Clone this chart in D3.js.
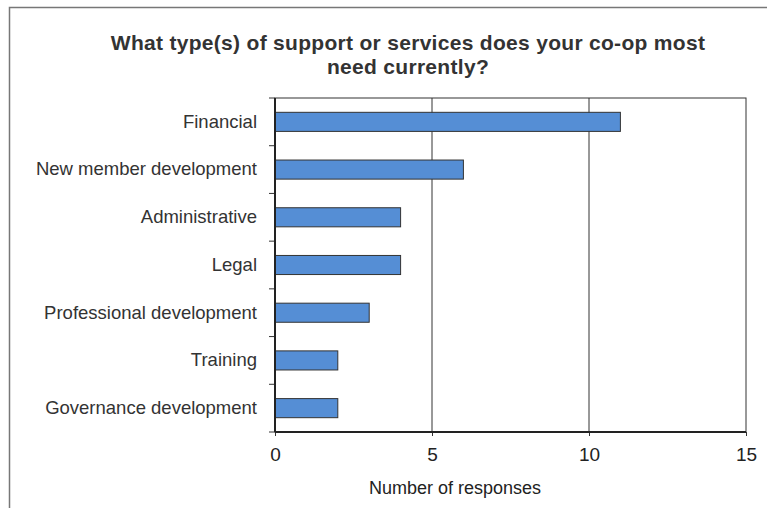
<!DOCTYPE html>
<html>
<head>
<meta charset="utf-8">
<script src="https://cdn.jsdelivr.net/npm/d3@7"></script>
<style>
  body { margin: 0; background: #fff; }
  svg { display: block; font-family: 'Liberation Sans', Arial, sans-serif; }
</style>
</head>
<body>
<svg id="chart" width="767" height="508"></svg>
<script>
const categories = ['Financial', 'New member development', 'Administrative', 'Legal',
  'Professional development', 'Training', 'Governance development']
const responses = [11, 6, 4, 4, 3, 2, 2]
const xTicks = [0, 5, 10, 15]
const titleLines = ['What type(s) of support or services does your co-op most', 'need currently?']
const xTitle = 'Number of responses'

const data = categories.map((c, i) => ({ name: c, value: responses[i] }))

const svg = d3.select('#chart')
const margin = { top: 98, right: 21, bottom: 76, left: 275 }
const width = 767 - margin.left - margin.right
const height = 508 - margin.top - margin.bottom

// outer chart frame (runs off the right / bottom edge)
svg.append('rect')
  .attr('x', 9.5).attr('y', 7.5)
  .attr('width', 900).attr('height', 700)
  .attr('fill', 'none')
  .attr('stroke', '#777')
  .attr('stroke-width', 1.5)

const g = svg.append('g').attr('transform', 'translate(' + margin.left + ',' + margin.top + ')')

const x = d3.scaleLinear().domain([0, 15]).range([0, width])
const y = d3.scaleBand().domain(categories).range([0, height]).paddingInner(0.6).paddingOuter(0.3)

// plot frame + gridlines
g.append('rect')
  .attr('x', 0).attr('y', 0)
  .attr('width', width).attr('height', height)
  .attr('fill', 'none')
  .attr('stroke', '#333')
  .attr('stroke-width', 1)

g.selectAll('.grid')
  .data(xTicks.filter(t => t > 0 && t < 15))
  .join('line')
  .attr('class', 'grid')
  .attr('x1', d => x(d)).attr('x2', d => x(d))
  .attr('y1', 0).attr('y2', height)
  .attr('stroke', '#333')
  .attr('stroke-width', 1)

// bars
g.selectAll('.bar')
  .data(data)
  .join('rect')
  .attr('class', 'bar')
  .attr('x', 0)
  .attr('y', d => y(d.name))
  .attr('width', d => x(d.value))
  .attr('height', y.bandwidth())
  .attr('fill', '#558ed5')
  .attr('stroke', '#333')
  .attr('stroke-width', 1)

// category axis: labels only, ticks sit between the categories
const yAxis = g.append('g')
  .call(d3.axisLeft(y).tickSize(0).tickPadding(18))
yAxis.select('.domain').remove()
yAxis.selectAll('text')
  .attr('fill', '#333')
  .style('font-size', '18.5px')

const gap = (y.step() - y.bandwidth()) / 2
const bounds = categories.map(c => y(c) - gap).concat([height])
g.selectAll('.ytick')
  .data(bounds)
  .join('line')
  .attr('class', 'ytick')
  .attr('x1', -6).attr('x2', 0)
  .attr('y1', d => d).attr('y2', d => d)
  .attr('stroke', '#333')
  .attr('stroke-width', 1)

// value axis
const xAxis = g.append('g')
  .attr('transform', 'translate(0,' + height + ')')
  .call(d3.axisBottom(x).tickValues(xTicks).tickSize(4).tickPadding(12))
xAxis.select('.domain').remove()
xAxis.selectAll('line').attr('stroke', '#333')
xAxis.selectAll('text')
  .attr('fill', '#222')
  .style('font-size', '19px')

// heavier axis lines
g.append('line')
  .attr('x1', 0).attr('x2', width)
  .attr('y1', height).attr('y2', height)
  .attr('stroke', '#222').attr('stroke-width', 2)
g.append('line')
  .attr('x1', 0).attr('x2', 0)
  .attr('y1', 0).attr('y2', height)
  .attr('stroke', '#222').attr('stroke-width', 2)

svg.append('text')
  .attr('x', 455)
  .attr('y', 494)
  .attr('text-anchor', 'middle')
  .attr('fill', '#222')
  .style('font-size', '18px')
  .text(xTitle)

svg.append('text')
  .attr('text-anchor', 'middle')
  .attr('fill', '#333')
  .style('font-size', '21px')
  .style('font-weight', 'bold')
  .style('letter-spacing', '0.3px')
  .selectAll('tspan')
  .data(titleLines)
  .join('tspan')
  .attr('x', 408)
  .attr('y', (d, i) => 50 + i * 24)
  .text(d => d)
</script>
</body>
</html>
